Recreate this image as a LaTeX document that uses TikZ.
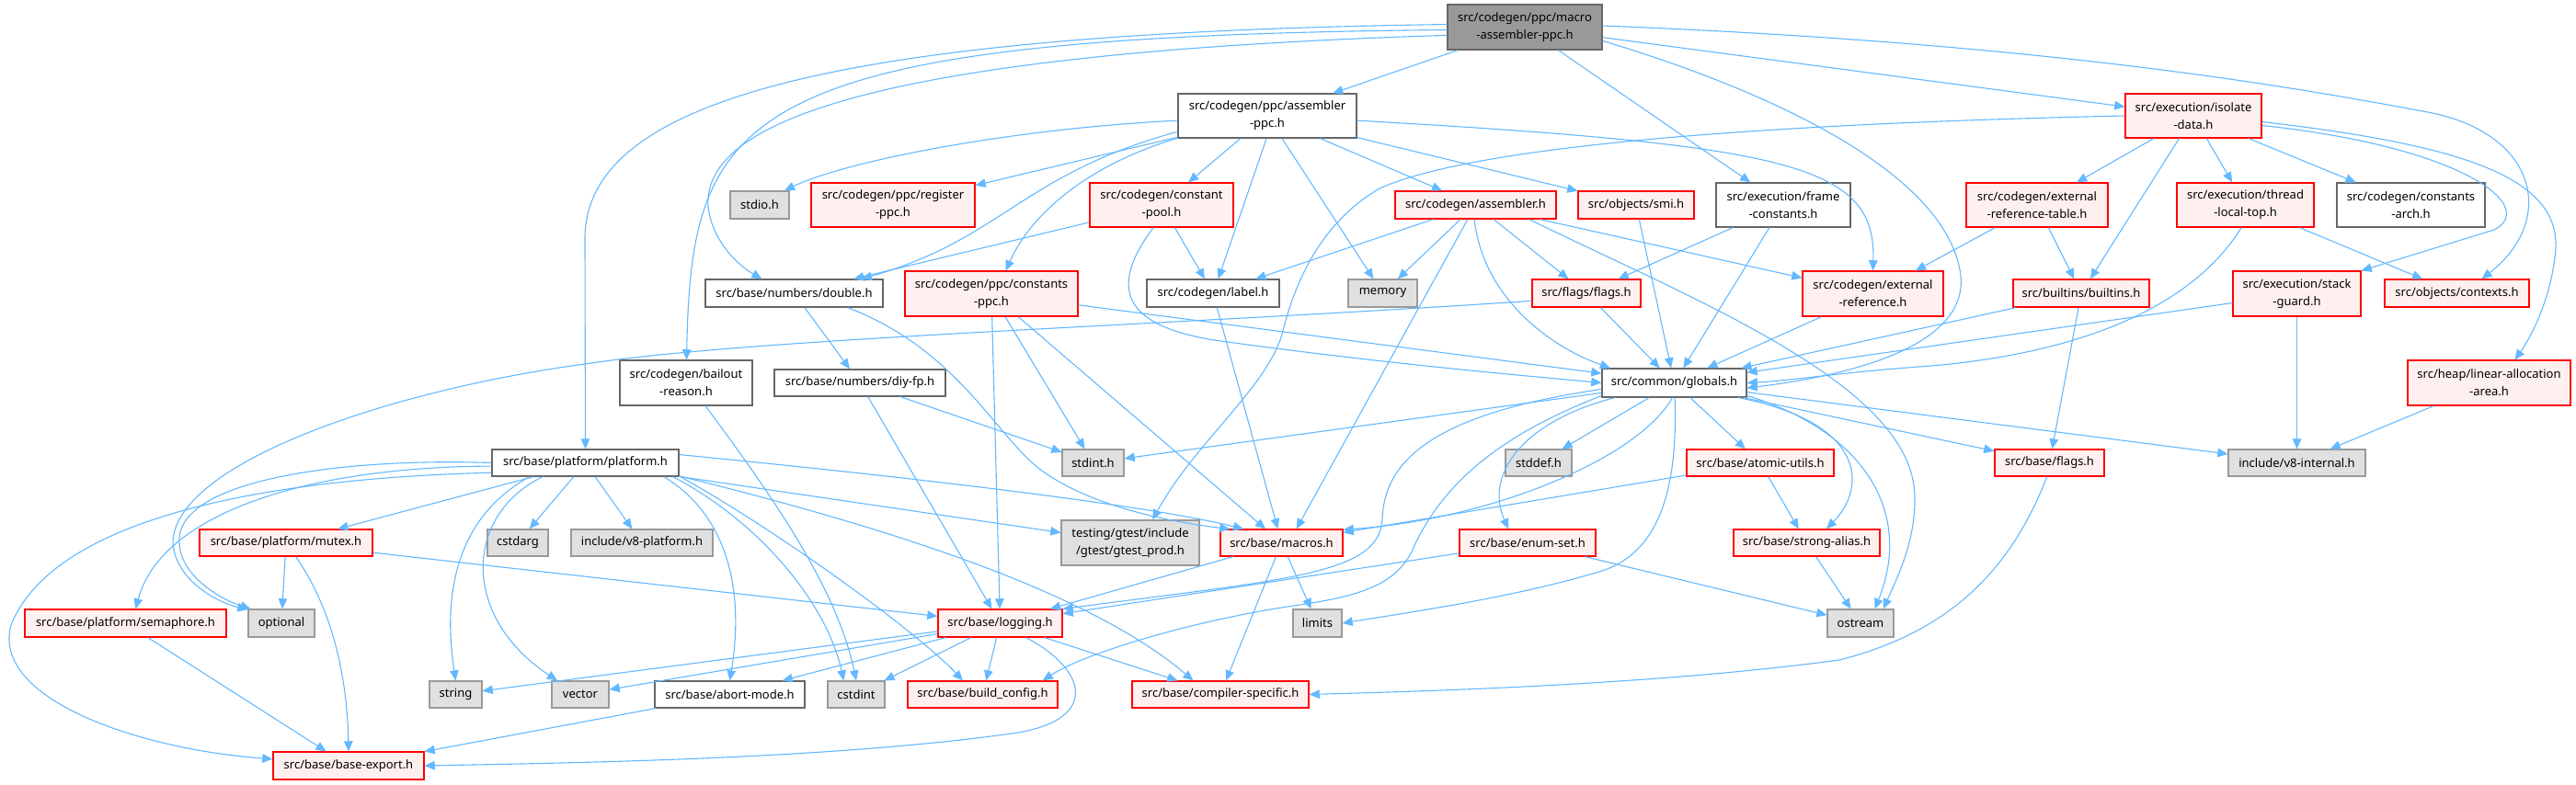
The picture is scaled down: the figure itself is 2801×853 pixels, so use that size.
\documentclass[tikz,border=0pt]{standalone}
\usepackage{fontspec}
\setmainfont{Noto Sans}
\usetikzlibrary{arrows.meta}
\definecolor{edgec}{HTML}{63B8FF}
\definecolor{redb}{HTML}{FF0000}
\definecolor{redf}{HTML}{FFF0F0}
\definecolor{grayb}{HTML}{999999}
\definecolor{grayf}{HTML}{E0E0E0}
\definecolor{whiteb}{HTML}{666666}
\definecolor{mainf}{HTML}{999999}
\newcommand\mkbox[7]{\node[#1,minimum width={(#5-#3)*0.5pt},minimum height={(#6-#4)*0.5pt}] (#2) at ({(#3+#5)/2},{(#4+#6)/2}) {#7};}
\begin{document}
\begin{tikzpicture}[x=0.5pt,y=-0.5pt,
  base/.style={rectangle,inner sep=0pt,align=center,text=black,font=\fontsize{6.5}{9.5}\selectfont,line width=0.55pt},
  wbox/.style={base,draw=whiteb,fill=white},
  rbox/.style={base,draw=redb,fill=redf},
  gbox/.style={base,draw=grayb,fill=grayf},
  mbox/.style={base,draw=whiteb,fill=mainf},
  e/.style={draw=edgec,line width=0.55pt,-{Triangle[length=5.6pt,width=4.8pt]}}]
\useasboundingbox (0,0) rectangle (2801,853);
% row 0-1
\mkbox{mbox}{main}{1574}{5}{1742}{54}{src/codegen/ppc/macro\\-assembler-ppc.h}
\mkbox{wbox}{asmppc}{1281}{102}{1475}{150}{src/codegen/ppc/assembler\\-ppc.h}
\mkbox{rbox}{isolate}{2311}{102}{2459}{150}{src/execution/isolate\\-data.h}
% row 2
\mkbox{gbox}{stdio}{794}{208}{858}{238}{stdio.h}
\mkbox{rbox}{regppc}{882}{199}{1060}{247}{src/codegen/ppc/register\\-ppc.h}
\mkbox{rbox}{cpool}{1185}{199}{1341}{247}{src/codegen/constant\\-pool.h}
\mkbox{rbox}{asmh}{1517}{208}{1692}{238}{src/codegen/assembler.h}
\mkbox{rbox}{smi}{1716}{208}{1842}{238}{src/objects/smi.h}
\mkbox{wbox}{frame}{1866}{199}{2012}{247}{src/execution/frame\\-constants.h}
\mkbox{rbox}{ertable}{2138}{199}{2292}{247}{src/codegen/external\\-reference-table.h}
\mkbox{rbox}{tlt}{2367}{199}{2516}{247}{src/execution/thread\\-local-top.h}
\mkbox{wbox}{carch}{2541}{199}{2702}{247}{src/codegen/constants\\-arch.h}
% row 3
\mkbox{wbox}{double}{767}{304}{960}{334}{src/base/numbers/double.h}
\mkbox{rbox}{cppc}{984}{295}{1172}{344}{src/codegen/ppc/constants\\-ppc.h}
\mkbox{wbox}{label}{1247}{304}{1391}{334}{src/codegen/label.h}
\mkbox{gbox}{memory}{1466}{304}{1541}{334}{memory}
\mkbox{rbox}{flagsf}{1666}{304}{1784}{334}{src/flags/flags.h}
\mkbox{rbox}{extref}{1960}{295}{2113}{344}{src/codegen/external\\-reference.h}
\mkbox{rbox}{builtins}{2189}{304}{2337}{334}{src/builtins/builtins.h}
\mkbox{rbox}{sguard}{2428}{295}{2567}{344}{src/execution/stack\\-guard.h}
\mkbox{rbox}{contexts}{2593}{304}{2750}{334}{src/objects/contexts.h}
% row 4
\mkbox{wbox}{bailout}{674}{392}{818}{441}{src/codegen/bailout\\-reason.h}
\mkbox{wbox}{diyfp}{842}{402}{1028}{431}{src/base/numbers/diy-fp.h}
\mkbox{wbox}{globals}{1742}{401}{1899}{432}{src/common/globals.h}
\mkbox{rbox}{linalloc}{2618}{392}{2795}{441}{src/heap/linear-allocation\\-area.h}
% row 5
\mkbox{wbox}{platform}{535}{489}{738}{518}{src/base/platform/platform.h}
\mkbox{gbox}{stdint}{1155}{489}{1222}{518}{stdint.h}
\mkbox{gbox}{stddef}{1637}{489}{1709}{518}{stddef.h}
\mkbox{rbox}{atomic}{1834}{489}{1994}{518}{src/base/atomic-utils.h}
\mkbox{rbox}{bflags}{2169}{489}{2288}{518}{src/base/flags.h}
\mkbox{gbox}{v8int}{2423}{489}{2572}{518}{include/v8-internal.h}
% row 6
\mkbox{rbox}{mutex}{217}{576}{405}{605}{src/base/platform/mutex.h}
\mkbox{gbox}{cstdarg}{530}{576}{596}{605}{cstdarg}
\mkbox{gbox}{v8plat}{621}{576}{775}{605}{include/v8-platform.h}
\mkbox{gbox}{gtest}{1154}{566}{1304}{615}{testing/gtest/include\\/gtest/gtest\_prod.h}
\mkbox{rbox}{macros}{1327}{576}{1460}{605}{src/base/macros.h}
\mkbox{rbox}{enumset}{1587}{576}{1735}{605}{src/base/enum-set.h}
\mkbox{rbox}{strong}{1885}{576}{2044}{605}{src/base/strong-alias.h}
% row 7
\mkbox{rbox}{semaphore}{27}{663}{246}{693}{src/base/platform/semaphore.h}
\mkbox{gbox}{optional}{270}{663}{342}{693}{optional}
\mkbox{rbox}{logging}{1020}{663}{1155}{693}{src/base/logging.h}
\mkbox{gbox}{limits}{1406}{663}{1459}{693}{limits}
\mkbox{gbox}{ostream}{1987}{663}{2059}{693}{ostream}
% row 8
\mkbox{gbox}{string}{467}{741}{524}{770}{string}
\mkbox{gbox}{vector}{600}{741}{662}{770}{vector}
\mkbox{wbox}{abort}{712}{741}{875}{770}{src/base/abort-mode.h}
\mkbox{gbox}{cstdint}{900}{741}{962}{770}{cstdint}
\mkbox{rbox}{buildcfg}{987}{741}{1150}{770}{src/base/build\_config.h}
\mkbox{rbox}{compspec}{1231}{741}{1423}{770}{src/base/compiler-specific.h}
% row 9
\mkbox{rbox}{bexport}{297}{818}{461}{848}{src/base/base-export.h}

% ---- edges from main
\draw[e] (main) -- (asmppc);
\draw[e] (main) -- (isolate);
\draw[e] (main) -- (frame);
\draw[e] (main.-10) .. controls (1960,110) and (2120,200) .. (2132,300) .. controls (2140,380) and (2000,410) .. (globals.-4);
\draw[e] (main.178) .. controls (900,36) and (636,110) .. (636,260) -- (platform);
\draw[e] (main.182) .. controls (800,40) and (752,120) .. (bailout);
\draw[e] (main.186) .. controls (880,60) and (765,150) .. (770,225) .. controls (775,265) and (805,290) .. (double.156);
\draw[e] (main.1) .. controls (2250,48) and (2520,100) .. (2640,122) .. controls (2760,145) and (2780,240) .. (contexts.30);
% ---- asmppc
\draw[e] (asmppc.183) .. controls (1100,140) and (920,175) .. (stdio.30);
\draw[e] (asmppc) -- (regppc);
\draw[e] (asmppc.190) .. controls (1110,190) and (1090,260) .. (double.12);
\draw[e] (asmppc.194) .. controls (1180,180) and (1120,235) .. (cppc.58);
\draw[e] (asmppc) -- (cpool);
\draw[e] (asmppc.-92) -- (label.70);
\draw[e] (asmppc) -- (memory);
\draw[e] (asmppc) -- (asmh);
\draw[e] (asmppc) -- (smi);
\draw[e] (asmppc.-3) .. controls (1950,158) and (2040,180) .. (extref.north);
% ---- isolate
\draw[e] (isolate) -- (ertable);
\draw[e] (isolate) -- (builtins);
\draw[e] (isolate) -- (tlt);
\draw[e] (isolate) -- (carch);
\draw[e] (isolate.-8) .. controls (2680,160) and (2760,225) .. (2712,250) -- (sguard.north east);
\draw[e] (isolate.-5) .. controls (2700,160) and (2790,200) .. (2778,280) .. controls (2772,330) and (2750,370) .. (linalloc.42);
\draw[e] (isolate.west) .. controls (1900,135) and (1600,160) .. (1500,205) .. controls (1440,240) and (1410,300) .. (1395,360) .. controls (1380,420) and (1300,480) .. (gtest.46);
% ---- cpool
\draw[e] (cpool) -- (double);
\draw[e] (cpool) -- (label);
\draw[e] (cpool.-110) .. controls (1200,320) and (1230,355) .. (1320,370) .. controls (1500,395) and (1650,408) .. (globals.west);
% ---- asmh
\draw[e] (asmh) -- (label);
\draw[e] (asmh) -- (memory);
\draw[e] (asmh) -- (flagsf);
\draw[e] (asmh.-95) .. controls (1612,320) and (1680,375) .. (globals.167);
\draw[e] (asmh) -- (macros.43);
\draw[e] (asmh) -- (extref);
\draw[e] (asmh.-15) .. controls (1850,330) and (2080,420) .. (2082,540) .. controls (2083,590) and (2062,630) .. (ostream.32);
% ---- smi, frame, ertable, tlt
\draw[e] (smi) -- (globals);
\draw[e] (frame) -- (flagsf);
\draw[e] (frame) -- (globals);
\draw[e] (ertable) -- (extref);
\draw[e] (ertable) -- (builtins);
\draw[e] (tlt) -- (contexts);
\draw[e] (tlt.-100) .. controls (2380,340) and (2250,385) .. (2100,398) .. controls (2000,405) and (1950,414) .. (globals.0);
% ---- builtins, sguard, linalloc, extref, flagsf
\draw[e] (builtins) -- (globals);
\draw[e] (builtins) -- (bflags);
\draw[e] (sguard) -- (globals);
\draw[e] (sguard) -- (v8int);
\draw[e] (linalloc) -- (v8int);
\draw[e] (extref) -- (globals);
\draw[e] (flagsf) -- (globals);
\draw[e] (flagsf.188) .. controls (1250,355) and (820,368) .. (636,396) .. controls (420,425) and (190,505) .. (188,590) .. controls (190,630) and (235,655) .. (optional.158);
% ---- cppc
\draw[e] (cppc) -- (logging);
\draw[e] (cppc) -- (stdint);
\draw[e] (cppc) -- (macros);
\draw[e] (cppc) -- (globals);
% ---- double, diyfp, label, bailout
\draw[e] (double) -- (diyfp);
\draw[e] (double.-15) .. controls (1040,380) and (1080,470) .. (1130,510) .. controls (1190,555) and (1290,570) .. (macros.165);
\draw[e] (diyfp) -- (stdint);
\draw[e] (diyfp) -- (logging);
\draw[e] (label) -- (macros);
\draw[e] (bailout.-50) .. controls (840,540) and (910,640) .. (cstdint.north);
% ---- platform
\draw[e] (platform.west) .. controls (380,498) and (200,520) .. (195,585) .. controls (192,625) and (240,652) .. (optional.155);
\draw[e] (platform.182) .. controls (330,508) and (175,560) .. (semaphore.55);
\draw[e] (platform.186) .. controls (300,520) and (60,560) .. (12,680) .. controls (-10,760) and (150,815) .. (bexport.175);
\draw[e] (platform) -- (mutex);
\draw[e] (platform) -- (cstdarg);
\draw[e] (platform) -- (v8plat);
\draw[e] (platform.-166) .. controls (500,560) and (480,640) .. (string.north);
\draw[e] (platform.-162) .. controls (505,560) and (500,670) .. (vector.149);
\draw[e] (platform.-10) .. controls (790,560) and (810,640) .. (abort.north);
\draw[e] (platform.-9) .. controls (830,570) and (900,660) .. (cstdint.132);
\draw[e] (platform.-8.5) .. controls (850,580) and (1000,690) .. (buildcfg.145);
\draw[e] (platform.-8) .. controls (950,570) and (1180,640) .. (compspec.153);
\draw[e] (platform) -- (gtest);
\draw[e] (platform.5) .. controls (1000,520) and (1250,550) .. (macros.160);
% ---- mutex, semaphore
\draw[e] (mutex) -- (optional);
\draw[e] (mutex.-55) .. controls (370,675) and (378,760) .. (bexport.north);
\draw[e] (mutex) -- (logging);
\draw[e] (semaphore) -- (bexport);
% ---- logging
\draw[e] (logging) -- (string);
\draw[e] (logging) -- (vector);
\draw[e] (logging) -- (abort);
\draw[e] (logging) -- (cstdint);
\draw[e] (logging) -- (buildcfg);
\draw[e] (logging) -- (compspec);
\draw[e] (logging.-29) .. controls (1185,730) and (1195,785) .. (1100,798) .. controls (900,826) and (620,830) .. (bexport.east);
\draw[e] (abort) -- (bexport);
% ---- macros
\draw[e] (macros) -- (logging);
\draw[e] (macros) -- (compspec);
\draw[e] (macros) -- (limits);
% ---- globals
\draw[e] (globals) -- (stdint);
\draw[e] (globals.-175) .. controls (1560,450) and (1505,500) .. (1503,565) .. controls (1500,625) and (1400,630) .. (logging.north east);
\draw[e] (globals.-170) .. controls (1640,470) and (1570,520) .. (1535,600) .. controls (1515,640) and (1470,650) .. (1400,660) .. controls (1300,675) and (1180,710) .. (buildcfg.13);
\draw[e] (globals.-166) .. controls (1650,460) and (1615,520) .. (enumset.144);
\draw[e] (globals) -- (stddef);
\draw[e] (globals.-97) .. controls (1780,500) and (1620,565) .. (macros.12);
\draw[e] (globals.-88) .. controls (1825,540) and (1800,600) .. (1745,620) .. controls (1650,650) and (1520,668) .. (limits.east);
\draw[e] (globals) -- (atomic);
\draw[e] (globals.-13) .. controls (2030,460) and (2030,530) .. (strong.35);
\draw[e] (globals.-10) .. controls (2030,470) and (2080,560) .. (ostream.45);
\draw[e] (globals) -- (bflags);
\draw[e] (globals) -- (v8int);
% ---- enumset, atomic, strong, bflags
\draw[e] (enumset) -- (logging);
\draw[e] (enumset) -- (ostream);
\draw[e] (atomic) -- (macros);
\draw[e] (atomic) -- (strong);
\draw[e] (strong) -- (ostream);
\draw[e] (bflags.-100) .. controls (2190,610) and (2130,685) .. (2000,718) .. controls (1800,745) and (1550,752) .. (compspec.east);
\end{tikzpicture}
\end{document}
